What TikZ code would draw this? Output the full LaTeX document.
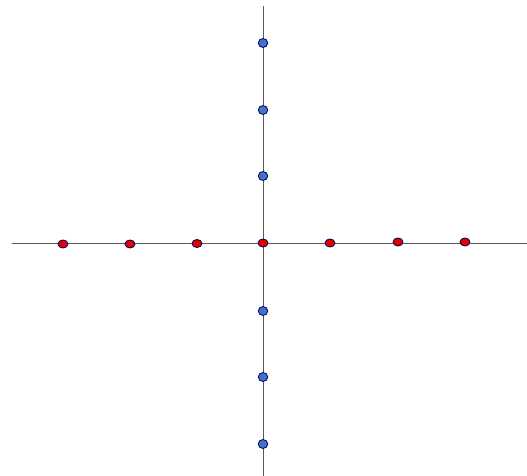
\documentclass[tikz,border=0pt]{standalone}
\usetikzlibrary{shapes.geometric}
\begin{document}
\begin{tikzpicture}[x=1pt,y=-1pt,
  axis/.style={draw=black!65,line width=1pt},
  reddot/.style={ellipse,draw=blue!35!black,fill=red!90!black,line width=0.8pt,minimum width=10pt,minimum height=8pt,inner sep=0pt},
  bluedot/.style={ellipse,draw=blue!40!black,fill={rgb,255:red,68;green,114;blue,196},line width=0.8pt,minimum width=9.5pt,minimum height=9pt,inner sep=0pt}]
\useasboundingbox (0,0) rectangle (527,476);
\coordinate (L) at (12,243);
\coordinate (R) at (527,243);
\coordinate (T) at (263,6);
\coordinate (B) at (263,476);
\draw[axis] (L) -- (R);
\draw[axis] (T) -- (B);
\node[reddot] (r1) at (63,244) {};
\node[reddot] (r2) at (130,244) {};
\node[reddot] (r3) at (197,243.5) {};
\node[reddot] (r0) at (263,243) {};
\node[reddot] (r4) at (330,243) {};
\node[reddot] (r5) at (398,242) {};
\node[reddot] (r6) at (465,242) {};
\node[bluedot] (b1) at (263,43) {};
\node[bluedot] (b2) at (263,110) {};
\node[bluedot] (b3) at (263,176) {};
\node[bluedot] (b4) at (263,311) {};
\node[bluedot] (b5) at (263,377) {};
\node[bluedot] (b6) at (263,444) {};
\end{tikzpicture}
\end{document}
